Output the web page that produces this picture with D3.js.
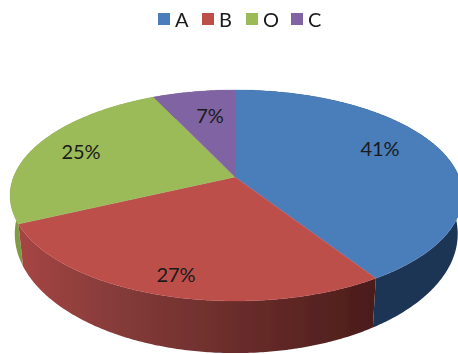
<!DOCTYPE html>
<html><head><meta charset="utf-8">
<script src="https://cdn.jsdelivr.net/npm/d3@7"></script>
<style>html,body{margin:0;padding:0;background:#fff}svg{display:block}text{font-family:Lato,"Open Sans",sans-serif;fill:#1a1a1a}</style>
</head><body><svg id="c" width="458" height="354"></svg>
<script>
const categories = ["A","B","O","C"];
const values = [41,27,25,7];
const topColors = ["#4a7ebb","#bd4f4c","#9bbb59","#8064a2"];
const wallStops = [
  ["#1c3350","#1d3654"],
  ["#a54543","#843b39","#6b2d2b","#4a1c1a"],
  ["#7f9c45","#7f9c45"],
  ["#65507f","#65507f"]
];
const redWallX = [20,120,235,378];
const legendX = [158,202,246,291];
const labelPos = [[380,148],[176,274],[81,151],[210,115]];

const ax=235, ay=177, Aright=224, Aleft=221.5, B=102.3, k=0.175;
const shrinkX=0.979, shrinkY=1.13, shiftY=36;
const svg=d3.select("#c");
const defs=svg.append("defs");
defs.append("filter").attr("id","soft").attr("x","-5%").attr("y","-5%").attr("width","110%").attr("height","110%")
  .append("feGaussianBlur").attr("stdDeviation",0.45);
const g=svg.append("g").attr("filter","url(#soft)");

const arcs=d3.pie().sort(null)(values);
function proj(t){const u=Math.sin(t),v=-Math.cos(t),w=1-k*v;return [ax+(u<0?Aleft:Aright)*u/w,ay+B*v/w];}
function low(p){return [ax+shrinkX*(p[0]-ax),ay+shiftY+shrinkY*(p[1]-ay)];}
const line=d3.line();
const stepFor=(a,b,s)=>d3.range(0,Math.ceil((b-a)/s)+1).map(i=>Math.min(b,a+i*s));

const xPos=d3.scaleLinear().domain([20,378]).range([0,1]);
wallStops.forEach((stops,i)=>{
  const lg=defs.append("linearGradient").attr("id","wall"+i)
    .attr("gradientUnits","userSpaceOnUse").attr("x1",20).attr("x2",378).attr("y1",0).attr("y2",0);
  stops.forEach((c,j)=>lg.append("stop")
    .attr("offset",i===1?xPos(redWallX[j]):j/(stops.length-1)).attr("stop-color",c));
});

const walls=arcs.map((d,i)=>{
  const pts=stepFor(d.startAngle,d.endAngle,0.01).map(proj);
  return {i,pts,my:d3.mean(pts,p=>p[1])};
}).sort((a,b)=>a.my-b.my);

g.selectAll("path.wall").data(walls).join("path").attr("class","wall")
 .attr("d",d=>line([...d.pts,...d.pts.map(low).reverse()])+"Z")
 .attr("fill",d=>`url(#wall${d.i})`);

g.selectAll("path.top").data(arcs).join("path").attr("class","top")
 .attr("d",d=>line([[ax,ay],...stepFor(d.startAngle,d.endAngle,0.01).map(proj)])+"Z")
 .attr("fill",(d,i)=>topColors[i]).attr("stroke",(d,i)=>topColors[i]).attr("stroke-width",0.3);

svg.selectAll("text.lab").data(values).join("text").attr("class","lab")
 .attr("x",(d,i)=>labelPos[i][0]).attr("y",(d,i)=>labelPos[i][1])
 .attr("text-anchor","middle").attr("dominant-baseline","central")
 .attr("font-size",20).text(d=>d+"%");

const leg=svg.append("g").attr("filter","url(#soft)");
leg.selectAll("rect").data(categories).join("rect")
 .attr("x",(d,i)=>legendX[i]).attr("y",13).attr("width",12).attr("height",12)
 .attr("fill",(d,i)=>topColors[i]);
leg.selectAll("text").data(categories).join("text")
 .attr("x",(d,i)=>legendX[i]+17).attr("y",19).attr("dominant-baseline","central")
 .attr("font-size",20).text(d=>d);
</script></body></html>
